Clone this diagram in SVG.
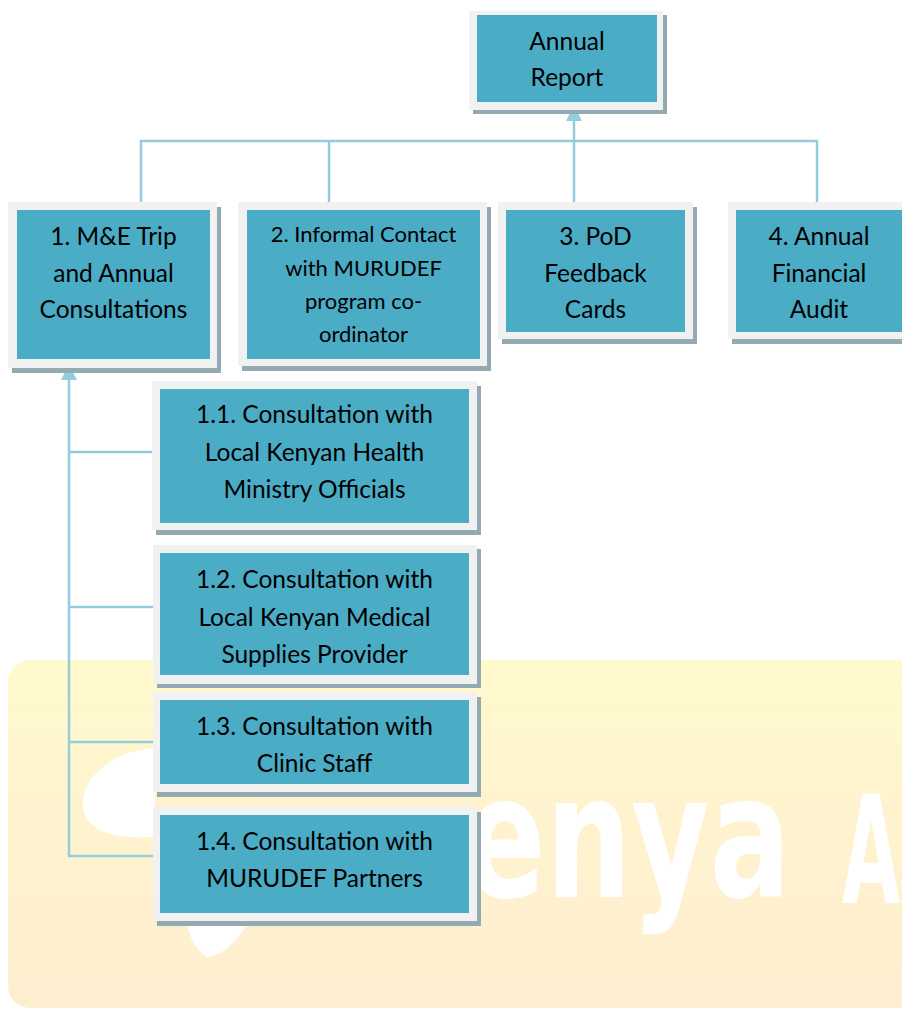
<svg xmlns="http://www.w3.org/2000/svg" width="902" height="1009" viewBox="0 0 902 1009">
<defs>
<style>
.frame{fill:#f1f1f1;}
.shadow{fill:#93aab3;}
.teal{fill:#4bacc6;}
.t{font-family:Lato,"Open Sans","Liberation Sans",sans-serif;font-size:24.5px;fill:#000;text-anchor:middle;}
.ts{font-size:22px;}
.conn{fill:none;stroke:#93cddd;stroke-width:2.5;}
.wm{font-family:"DejaVu Sans",sans-serif;font-weight:bold;fill:#ffffff;}
</style>
<linearGradient id="bg" x1="0" y1="0" x2="0" y2="1">
<stop offset="0" stop-color="#fffacc"/>
<stop offset="0.45" stop-color="#fff3cf"/>
<stop offset="1" stop-color="#feeed0"/>
</linearGradient>
<marker id="arr" viewBox="0 0 16 16" refX="15" refY="8" markerWidth="16" markerHeight="16" markerUnits="userSpaceOnUse" orient="auto">
<path d="M0,0 L16,8 L0,16 Z" fill="#93cddd"/>
</marker>
</defs>
<rect width="902" height="1009" fill="#ffffff"/>
<g id="watermark">
<rect x="8" y="660" width="910" height="348" rx="22" fill="url(#bg)"/>
<path d="M155,748 C118,750 86,772 83,800 C81,826 102,840 155,837 Z" fill="#ffffff"/>
<path d="M187,924 L247,924 C238,940 224,955 207,957 C196,950 190,938 187,924 Z" fill="#ffffff"/>
<text class="wm" transform="matrix(0.7,0,0,1,464,897)" x="0" y="0" font-size="172">enya</text>
<text class="wm" transform="matrix(0.5,0,0,1,842,903)" x="0" y="0" font-size="150">A</text>
</g>
<g id="connectors">
<path class="conn" d="M141,202 V141 H817 V202"/>
<path class="conn" d="M329,141 V202"/>
<path class="conn" d="M574,202 V106" marker-end="url(#arr)"/>
<path class="conn" d="M156,856 H69 V365" marker-end="url(#arr)"/>
<path class="conn" d="M69,452 H156"/>
<path class="conn" d="M69,607 H156"/>
<path class="conn" d="M69,742 H156"/>
</g>
<g id="annual-report">
<rect class="shadow" x="473" y="15" width="194" height="99"/>
<rect class="frame" x="469" y="11" width="194" height="99"/>
<rect class="teal" x="477" y="15" width="180" height="87"/>
<text class="t" x="567" y="50">Annual</text>
<text class="t" x="567" y="86">Report</text>
</g>
<g id="node-1">
<rect class="shadow" x="12" y="207" width="209" height="166"/>
<rect class="frame" x="8" y="202" width="209" height="166"/>
<rect class="teal" x="17" y="210" width="193" height="149"/>
<text class="t" x="113.5" y="245">1. M&amp;E Trip</text>
<text class="t" x="113.5" y="282">and Annual</text>
<text class="t" x="113.5" y="318">Consultations</text>
</g>
<g id="node-2">
<rect class="shadow" x="242" y="207" width="249" height="164"/>
<rect class="frame" x="238" y="202" width="249" height="164"/>
<rect class="teal" x="247" y="210" width="233" height="149"/>
<text class="t ts" x="363.5" y="242">2. Informal Contact</text>
<text class="t ts" x="363.5" y="276">with MURUDEF</text>
<text class="t ts" x="363.5" y="309">program co-</text>
<text class="t ts" x="363.5" y="342">ordinator</text>
</g>
<g id="node-3">
<rect class="shadow" x="502" y="207" width="195" height="137"/>
<rect class="frame" x="498" y="202" width="195" height="137"/>
<rect class="teal" x="506" y="210" width="179" height="122"/>
<text class="t" x="595.5" y="245">3. PoD</text>
<text class="t" x="595.5" y="282">Feedback</text>
<text class="t" x="595.5" y="318">Cards</text>
</g>
<g id="node-4">
<rect class="shadow" x="732" y="207" width="195" height="137"/>
<rect class="frame" x="728" y="202" width="195" height="137"/>
<rect class="teal" x="736" y="210" width="166" height="122"/>
<text class="t" x="819" y="245">4. Annual</text>
<text class="t" x="819" y="282">Financial</text>
<text class="t" x="819" y="318">Audit</text>
</g>
<g id="node-1-1">
<rect class="shadow" x="156" y="386" width="325" height="149"/>
<rect class="frame" x="152" y="381" width="325" height="149"/>
<rect class="teal" x="160" y="389" width="309" height="134"/>
<text class="t" x="314.5" y="423">1.1. Consultation with</text>
<text class="t" x="314.5" y="461">Local Kenyan Health</text>
<text class="t" x="314.5" y="498">Ministry Officials</text>
</g>
<g id="node-1-2">
<rect class="shadow" x="157" y="549" width="324" height="139"/>
<rect class="frame" x="153" y="545" width="324" height="139"/>
<rect class="teal" x="160" y="553" width="309" height="122"/>
<text class="t" x="314.5" y="588">1.2. Consultation with</text>
<text class="t" x="314.5" y="626">Local Kenyan Medical</text>
<text class="t" x="314.5" y="663">Supplies Provider</text>
</g>
<g id="node-1-3">
<rect class="shadow" x="157" y="697" width="324" height="100"/>
<rect class="frame" x="153" y="692" width="324" height="100"/>
<rect class="teal" x="160" y="700" width="309" height="84"/>
<text class="t" x="314.5" y="735">1.3. Consultation with</text>
<text class="t" x="314.5" y="772">Clinic Staff</text>
</g>
<g id="node-1-4">
<rect class="shadow" x="157" y="812" width="324" height="114"/>
<rect class="frame" x="153" y="807" width="324" height="114"/>
<rect class="teal" x="160" y="815" width="309" height="98"/>
<text class="t" x="314.5" y="850">1.4. Consultation with</text>
<text class="t" x="314.5" y="887">MURUDEF Partners</text>
</g>
</svg>
